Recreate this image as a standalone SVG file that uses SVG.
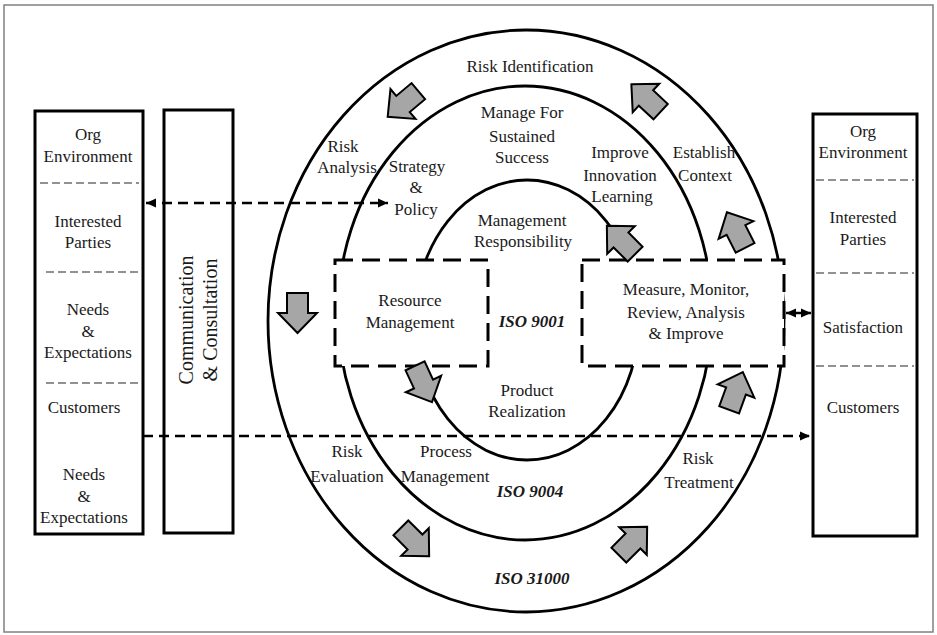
<svg xmlns="http://www.w3.org/2000/svg" xmlns:xlink="http://www.w3.org/1999/xlink" width="937" height="635" viewBox="0 0 937 635">
<style>
.t{font-family:"Liberation Serif","Times New Roman",serif;font-size:17px;fill:#1a1a1a;text-anchor:middle}
.big{font-size:20px}
.iso{font-weight:bold;font-style:italic}
.ring{fill:none;stroke:#000;stroke-width:2.8}
.box{fill:#fff;stroke:#000;stroke-width:3}
.dbox{fill:#fff;stroke:#000;stroke-width:3;stroke-dasharray:18 9}
.sep{stroke:#6e6e6e;stroke-width:1.5;stroke-dasharray:8 4}
.blk{fill:#a6a6a6;stroke:#000;stroke-width:2}
.conn{stroke:#000;stroke-width:2.5;stroke-dasharray:10 6;fill:none}
.solid{stroke:#000;stroke-width:2.5;fill:none}
</style>
<defs>
<marker id="ah" markerUnits="userSpaceOnUse" markerWidth="11" markerHeight="10" refX="10" refY="5" orient="auto-start-reverse" viewBox="0 0 11 10">
<path d="M0,0.5 L10,5 L0,9.5 z" fill="#000"/>
</marker>
<path id="blk" d="M0,-20 L19.5,0 L10.5,0 L10.5,20 L-10.5,20 L-10.5,0 L-19.5,0 Z"/>
</defs>
<rect x="4" y="5" width="929" height="627" fill="#fff" stroke="#808080" stroke-width="1.5"/>

<g id="rings">
<ellipse class="ring" cx="526" cy="321" rx="258" ry="291"/>
<ellipse class="ring" cx="525" cy="313" rx="187" ry="227"/>
<ellipse class="ring" cx="527" cy="320" rx="112" ry="140"/>
</g>

<g id="resource-management">
<rect class="dbox" x="335" y="260" width="153" height="106"/>
<text class="t" x="410" y="306">Resource</text>
<text class="t" x="410" y="328">Management</text>
</g>
<g id="measure-monitor">
<rect class="dbox" x="582" y="260" width="202" height="106"/>
<text class="t" x="686" y="295">Measure, Monitor,</text>
<text class="t" x="686" y="318">Review, Analysis</text>
<text class="t" x="686" y="339">&amp; Improve</text>
</g>
<g id="iso9001"><text class="t iso" x="532" y="327">ISO 9001</text></g>

<g id="risk-identification"><text class="t" x="530" y="72">Risk Identification</text></g>
<g id="manage-sustained"><text class="t" x="522" y="118">Manage For</text><text class="t" x="522" y="142">Sustained</text><text class="t" x="522" y="163">Success</text></g>
<g id="risk-analysis"><text class="t" x="343" y="152">Risk</text><text class="t" x="347" y="173">Analysis</text></g>
<g id="strategy-policy"><text class="t" x="417" y="172">Strategy</text><text class="t" x="416" y="193">&amp;</text><text class="t" x="416" y="215">Policy</text></g>
<g id="improve"><text class="t" x="620" y="158">Improve</text><text class="t" x="620" y="181">Innovation</text><text class="t" x="622" y="202">Learning</text></g>
<g id="establish-context"><text class="t" x="704" y="158">Establish</text><text class="t" x="705" y="181">Context</text></g>
<g id="management-responsibility"><text class="t" x="522" y="226">Management</text><text class="t" x="523" y="247">Responsibility</text></g>
<g id="product-realization"><text class="t" x="527" y="396">Product</text><text class="t" x="527" y="417">Realization</text></g>
<g id="risk-evaluation"><text class="t" x="347" y="457">Risk</text><text class="t" x="347" y="482">Evaluation</text></g>
<g id="process-management"><text class="t" x="446" y="457">Process</text><text class="t" x="445" y="482">Management</text></g>
<g id="iso9004"><text class="t iso" x="530" y="497">ISO 9004</text></g>
<g id="risk-treatment"><text class="t" x="698" y="464">Risk</text><text class="t" x="699" y="488">Treatment</text></g>
<g id="iso31000"><text class="t iso" x="532" y="584">ISO 31000</text></g>

<g id="cycle-arrows">
<use href="#blk" class="blk" transform="translate(403,104) rotate(230)"/>
<use href="#blk" class="blk" transform="translate(646,98) rotate(-47)"/>
<use href="#blk" class="blk" transform="translate(621,240) rotate(-45)"/>
<use href="#blk" class="blk" transform="translate(736,230) rotate(-27)"/>
<use href="#blk" class="blk" transform="translate(736,391) rotate(20)"/>
<use href="#blk" class="blk" transform="translate(297.5,313) rotate(180)"/>
<use href="#blk" class="blk" transform="translate(423.5,384) rotate(155)"/>
<use href="#blk" class="blk" transform="translate(415,542) rotate(135)"/>
<use href="#blk" class="blk" transform="translate(633,541) rotate(45)"/>
</g>

<g id="left-panel">
<rect class="box" x="35" y="111" width="108" height="423"/>
<line class="sep" x1="40" y1="183" x2="139" y2="183"/>
<line class="sep" x1="46" y1="272" x2="142" y2="272"/>
<line class="sep" x1="46" y1="383" x2="142" y2="383"/>
<text class="t" x="88" y="140">Org</text>
<text class="t" x="88" y="162">Environment</text>
<text class="t" x="88" y="227">Interested</text>
<text class="t" x="88" y="248">Parties</text>
<text class="t" x="88" y="315">Needs</text>
<text class="t" x="88" y="337">&amp;</text>
<text class="t" x="88" y="358">Expectations</text>
<text class="t" x="84" y="413">Customers</text>
<text class="t" x="84" y="480">Needs</text>
<text class="t" x="84" y="502">&amp;</text>
<text class="t" x="84" y="523">Expectations</text>
</g>

<g id="communication">
<rect class="box" x="164" y="110" width="69" height="423"/>
<text class="t big" transform="translate(193,320) rotate(-90)">Communication</text>
<text class="t big" transform="translate(217,320) rotate(-90)">&amp; Consultation</text>
</g>

<g id="right-panel">
<rect class="box" x="813" y="114" width="104" height="422"/>
<line class="sep" x1="816" y1="180" x2="914" y2="180"/>
<line class="sep" x1="816" y1="273" x2="914" y2="273"/>
<line class="sep" x1="816" y1="366" x2="914" y2="366"/>
<text class="t" x="863" y="137">Org</text>
<text class="t" x="863" y="158">Environment</text>
<text class="t" x="863" y="223">Interested</text>
<text class="t" x="863" y="245">Parties</text>
<text class="t" x="863" y="333">Satisfaction</text>
<text class="t" x="863" y="413">Customers</text>
</g>

<g id="connectors">
<line class="conn" x1="146" y1="203" x2="388" y2="203" marker-start="url(#ah)" marker-end="url(#ah)"/>
<line class="conn" x1="143" y1="436" x2="810" y2="436" marker-end="url(#ah)"/>
<line class="solid" x1="786" y1="313" x2="811" y2="313" marker-start="url(#ah)" marker-end="url(#ah)"/>
</g>
</svg>
